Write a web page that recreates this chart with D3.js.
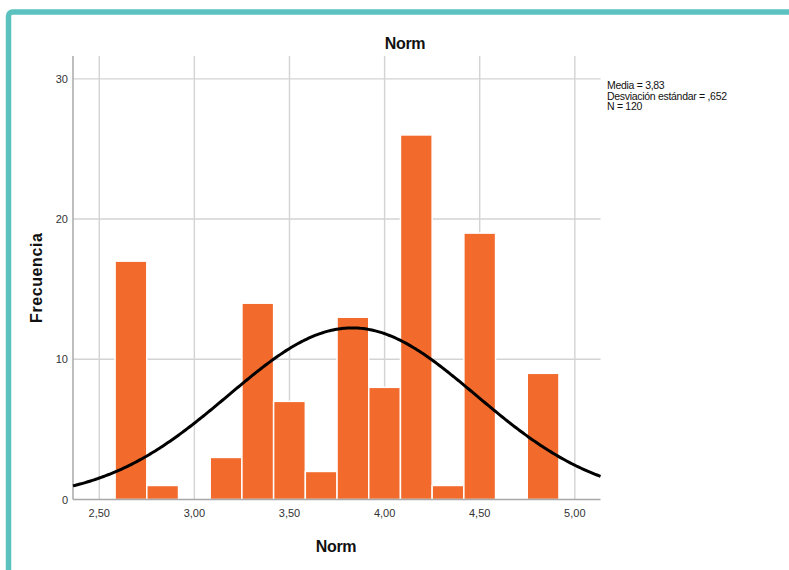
<!DOCTYPE html>
<html>
<head>
<meta charset="utf-8">
<script src="https://cdn.jsdelivr.net/npm/d3@7"></script>
<style>
  html, body { margin: 0; padding: 0; background: #fff; }
  svg { display: block; font-family: "Liberation Sans", Arial, sans-serif; }
</style>
</head>
<body>
<svg id="chart" width="789" height="570"></svg>
<script>
// ---- data ----
const binStarts = [2.5833, 2.75, 2.9167, 3.0833, 3.25, 3.4167, 3.5833, 3.75, 3.9167, 4.0833, 4.25, 4.4167, 4.5833, 4.75];
const counts    = [17, 1, 0, 3, 14, 7, 2, 13, 8, 26, 1, 19, 0, 9];
const binWidth  = 1 / 6;
const xTicks    = [2.5, 3.0, 3.5, 4.0, 4.5, 5.0];
const yTicks    = [0, 10, 20, 30];
const statMean  = 3.83;
const statSd    = 0.652;
const statN     = 120;
const legendLines = ["Media = 3,83", "Desviación estándar = ,652", "N = 120"];
const chartTitle = "Norm";
const xTitle = "Norm";
const yTitle = "Frecuencia";

const svg = d3.select("#chart");

// teal frame
svg.append("rect")
  .attr("x", 8.5).attr("y", 12).attr("width", 900).attr("height", 700)
  .attr("rx", 4).attr("fill", "#fff")
  .attr("stroke", "#5BC2BF").attr("stroke-width", 5.5);

const pLeft = 73, pRight = 600.5, pTop = 56, pBottom = 499.5;
const x = d3.scaleLinear().domain([2.362, 5.135]).range([pLeft, pRight]);
const y = d3.scaleLinear().domain([0, 31.63]).range([pBottom, pTop]);

const fmt = d => d3.format(".2f")(d).replace(".", ",");

// gridlines
svg.append("g").selectAll("line").data(xTicks).join("line")
  .attr("x1", d => x(d)).attr("x2", d => x(d))
  .attr("y1", pTop).attr("y2", pBottom)
  .attr("stroke", "#d3d3d3").attr("stroke-width", 1.4);
svg.append("g").selectAll("line").data(yTicks.filter(d => d > 0)).join("line")
  .attr("x1", pLeft).attr("x2", pRight)
  .attr("y1", d => y(d)).attr("y2", d => y(d))
  .attr("stroke", "#d3d3d3").attr("stroke-width", 1.4);

// bars
svg.append("g").selectAll("rect").data(binStarts.map((b, i) => ({b, c: counts[i]})).filter(d => d.c > 0)).join("rect")
  .attr("x", d => x(d.b))
  .attr("width", d => x(d.b + binWidth) - x(d.b))
  .attr("y", d => y(d.c))
  .attr("height", d => y(0) - y(d.c))
  .attr("fill", "#F26A2C")
  .attr("stroke", "#ffffff").attr("stroke-width", 1.5);

// axes lines
svg.append("line").attr("x1", pLeft).attr("x2", pLeft).attr("y1", pTop).attr("y2", pBottom)
  .attr("stroke", "#a8a8a8").attr("stroke-width", 1.5);
svg.append("line").attr("x1", pLeft).attr("x2", pRight).attr("y1", pBottom).attr("y2", pBottom)
  .attr("stroke", "#a8a8a8").attr("stroke-width", 1.5);

// normal curve
const scaleFactor = statN * binWidth;
const pdf = v => Math.exp(-0.5 * Math.pow((v - statMean) / statSd, 2)) / (statSd * Math.sqrt(2 * Math.PI));
const xs = d3.range(0, 301).map(i => x.domain()[0] + (x.domain()[1] - x.domain()[0]) * i / 300);
svg.append("path")
  .datum(xs)
  .attr("fill", "none").attr("stroke", "#000").attr("stroke-width", 3)
  .attr("d", d3.line().x(d => x(d)).y(d => y(scaleFactor * pdf(d))));

// tick labels
svg.append("g").selectAll("text").data(xTicks).join("text")
  .attr("x", d => x(d)).attr("y", 517)
  .attr("text-anchor", "middle").attr("font-size", 11).attr("fill", "#333")
  .text(fmt);
svg.append("g").selectAll("text").data(yTicks).join("text")
  .attr("x", 68).attr("y", d => y(d) + 4)
  .attr("text-anchor", "end").attr("font-size", 11).attr("fill", "#333")
  .text(d => d);

// titles
svg.append("text").attr("x", 405).attr("y", 49)
  .attr("text-anchor", "middle").attr("font-size", 16).attr("fill", "#111")
  .attr("font-weight", "bold").attr("letter-spacing", -0.3)
  .text(chartTitle);
svg.append("text").attr("x", 336).attr("y", 552)
  .attr("text-anchor", "middle").attr("font-size", 16).attr("fill", "#111")
  .attr("font-weight", "bold").attr("letter-spacing", -0.3)
  .text(xTitle);
svg.append("text")
  .attr("transform", `translate(42,${(pTop + pBottom) / 2}) rotate(-90)`)
  .attr("text-anchor", "middle").attr("font-size", 16).attr("fill", "#111")
  .attr("font-weight", "bold").attr("letter-spacing", 0.6)
  .text(yTitle);

// stats legend
svg.append("g").selectAll("text").data(legendLines).join("text")
  .attr("x", 607).attr("y", (d, i) => 89 + i * 10.5)
  .attr("font-size", 10.5).attr("fill", "#111").attr("letter-spacing", -0.3)
  .text(d => d);
</script>
</body>
</html>
